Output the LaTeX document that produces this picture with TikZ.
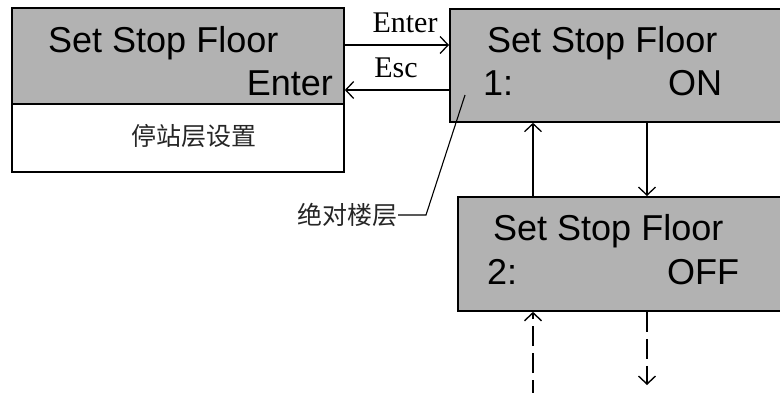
\documentclass[tikz,border=0pt]{standalone}
\usepackage{fontspec}
\setmainfont{Liberation Serif}
\newfontfamily\lcd{Liberation Sans}
\newfontfamily\cjk{Noto Sans CJK SC}
\usetikzlibrary{arrows.meta}
\begin{document}
\begin{tikzpicture}[x=1pt,y=-1pt,
  lcdbox/.style={draw=black,line width=1.8pt,fill=black!30,inner sep=0pt,anchor=north west},
  plainbox/.style={draw=black,line width=1.8pt,fill=white,inner sep=0pt,anchor=north west},
  lcdtext/.style={font=\lcd\fontsize{36}{36}\selectfont,inner sep=0pt},
  keytext/.style={font=\fontsize{30}{30}\selectfont,inner sep=0pt},
  cjktext/.style={font=\cjk\fontsize{25}{25}\selectfont\color{black!85},inner sep=0pt},
  conn/.style={line width=1.1pt,-{Straight Barb[length=8pt,width=17pt,line width=1.3pt]}},
  dconn/.style={line width=2.4pt,dash pattern=on 20pt off 7pt,-{Straight Barb[length=8pt,width=17pt,line width=1.4pt]}},
  lead/.style={line width=1.1pt}]
\clip (0,0) rectangle (780,392);
\fill[white] (0,0) rectangle (780,392);
% boxes
\node[lcdbox,minimum width=332pt,minimum height=96pt] (A) at (11,7) {};
\node[plainbox,minimum width=332pt,minimum height=68pt] (Aw) at (11,103) {};
\node[lcdbox,minimum width=360pt,minimum height=113pt] (B) at (449,8) {};
\node[lcdbox,minimum width=360pt,minimum height=114pt] (C) at (457,196) {};
% texts
\node[lcdtext,anchor=base west] (a1) at (48,52) {Set Stop Floor};
\node[lcdtext,anchor=base east] (a2) at (333,95) {Enter};
\node[cjktext] (aw) at (194,136) {停站层设置};
\node[lcdtext,anchor=base west] (b1) at (487,52) {Set Stop Floor};
\node[lcdtext,anchor=base west] (b2) at (483,95) {1:};
\node[lcdtext,anchor=base west] (b3) at (668,95) {ON};
\node[lcdtext,anchor=base west] (c1) at (493,240) {Set Stop Floor};
\node[lcdtext,anchor=base west] (c2) at (487,284) {2:};
\node[lcdtext,anchor=base west] (c3) at (667,284) {OFF};
\node[keytext,anchor=base] (kenter) at (405,32) {Enter};
\node[keytext,anchor=base] (kesc) at (396,77) {Esc};
\node[cjktext,anchor=east] (lbl) at (398,215) {绝对楼层};
% connectors
\draw[conn] (A.north east |- 0,45) -- (B.north west |- 0,45);
\draw[conn] (B.north west |- 0,90) -- (A.north east |- 0,90);
\draw[conn] (C.north west -| 533,0) -- (B.south west -| 533,0);
\draw[conn] (B.south west -| 647,0) -- (C.north west -| 647,0);
\coordinate (dl) at (533,400);
\coordinate (dr) at (647,385);
\draw[dconn] (dl) -- (C.south west -| 533,0);
\draw[dconn] (C.south west -| 647,0) -- (dr);
\coordinate (k) at (426,215);
\coordinate (tip) at (465,95);
\draw[lead] (lbl.east) -- (k) -- (tip);
\end{tikzpicture}
\end{document}
